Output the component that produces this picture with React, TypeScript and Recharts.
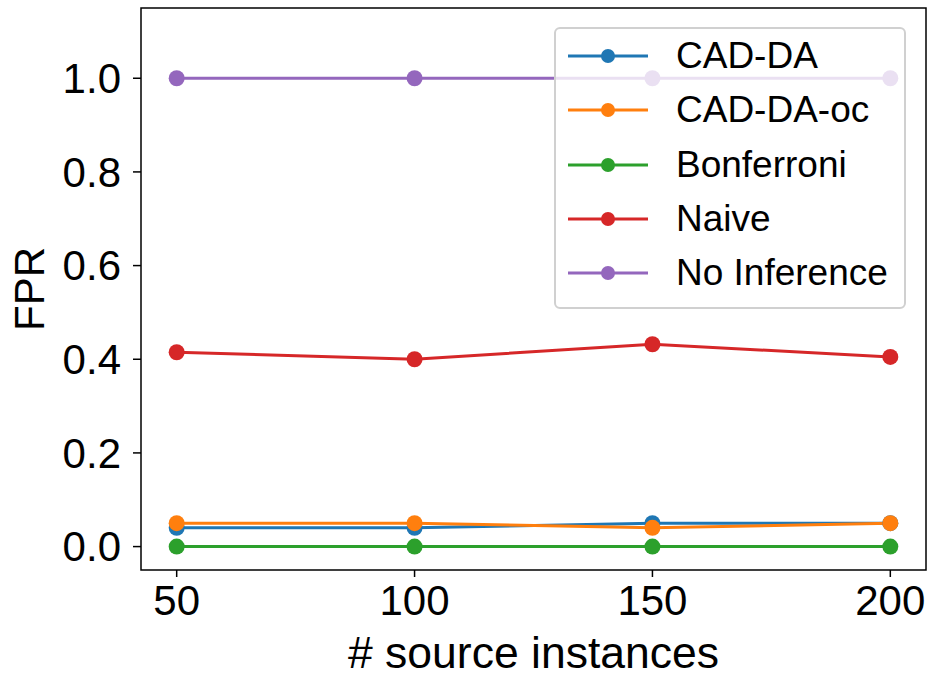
import React from "react";
import {
  LineChart, Line, XAxis, YAxis, ReferenceArea,
} from "recharts";

const sourceInstances = [50, 100, 150, 200];
const cadDa = [0.04, 0.04, 0.05, 0.05];
const cadDaOc = [0.05, 0.05, 0.04, 0.05];
const bonferroni = [0, 0, 0, 0];
const naive = [0.415, 0.4, 0.432, 0.405];
const noInference = [1.0, 1.0, 1.0, 1.0];
const yTicks = [0, 0.2, 0.4, 0.6, 0.8, 1.0];

const SERIES = [
  { key: "cadDa", name: "CAD-DA", color: "#1f77b4", values: cadDa },
  { key: "cadDaOc", name: "CAD-DA-oc", color: "#ff7f0e", values: cadDaOc },
  { key: "bonferroni", name: "Bonferroni", color: "#2ca02c", values: bonferroni },
  { key: "naive", name: "Naive", color: "#d62728", values: naive },
  { key: "noInference", name: "No Inference", color: "#9467bd", values: noInference },
];

const data = sourceInstances.map((n, i) => {
  const row: Record<string, number> = { n };
  SERIES.forEach(s => { row[s.key] = s.values[i]; });
  return row;
});

const FONT = '"Liberation Sans", Arial, Helvetica, sans-serif';
const tickStyle = { fontSize: 42, fill: "#000", fontFamily: FONT };

/* ─── legend box, top right, semi-transparent like matplotlib ─── */
function LegendBox() {
  return (
    <div style={{
      position: "absolute", left: 554, top: 27, width: 352, height: 282,
      background: "rgba(255,255,255,0.8)", border: "2px solid #d0d0d0",
      borderRadius: 6, boxSizing: "border-box", fontFamily: FONT,
    }}>
      {SERIES.map((s, i) => (
        <div key={s.key} style={{ position: "absolute", left: 0, top: i * 54.3, height: 54, display: "flex", alignItems: "center" }}>
          <svg width={120} height={20} style={{ marginLeft: 12 }}>
            <line x1={0} y1={10} x2={80} y2={10} stroke={s.color} strokeWidth={3} />
            <circle cx={40} cy={10} r={7} fill={s.color} />
          </svg>
          <span style={{ fontSize: 37, color: "#000", marginLeft: -12, lineHeight: "54px" }}>{s.name}</span>
        </div>
      ))}
    </div>
  );
}

export default function App() {
  return (
    <div style={{ position: "absolute", left: 0, top: 0, width: 934, height: 681, background: "#fff" }}>
      <LineChart width={934} height={681} data={data} margin={{ top: 8, right: 8, left: 0, bottom: 0 }}>
        <XAxis
          dataKey="n" type="number" domain={[42.5, 207.5]} ticks={sourceInstances}
          allowDataOverflow height={111} tick={tickStyle} tickSize={7} tickMargin={8}
          axisLine={false} tickLine={{ stroke: "#000", strokeWidth: 1.5 }}
          label={{
            content: (p: any) => {
              const vb = p.viewBox;
              return (
                <text x={vb.x + vb.width / 2} y={668} textAnchor="middle"
                  fontSize={44.5} fontFamily={FONT} fill="#000">
                  # source instances
                </text>
              );
            },
          }}
        />
        <YAxis
          type="number" domain={[-0.05, 1.15]} ticks={yTicks} allowDataOverflow
          width={141} tick={tickStyle} tickSize={8} tickMargin={12}
          tickFormatter={(v: number) => v.toFixed(1)}
          axisLine={false} tickLine={{ stroke: "#000", strokeWidth: 1.5 }}
          label={{
            content: (p: any) => {
              const vb = p.viewBox;
              const cx = 29;
              const cy = vb.y + vb.height / 2;
              return (
                <text x={cx} y={cy} textAnchor="middle" dominantBaseline="central"
                  transform={`rotate(-90, ${cx}, ${cy})`}
                  fontSize={42} fontFamily={FONT} fill="#000">
                  FPR
                </text>
              );
            },
          }}
        />
        <ReferenceArea x1={42.5} x2={207.5} y1={-0.05} y2={1.15} fill="none" fillOpacity={0}
          stroke="#000" strokeWidth={1.5} ifOverflow="visible" />
        {SERIES.map(s => (
          <Line key={s.key} dataKey={s.key} name={s.name} stroke={s.color} strokeWidth={3}
            dot={{ r: 8, fill: s.color, stroke: "none" }} activeDot={false}
            isAnimationActive={false} />
        ))}
      </LineChart>
      <LegendBox />
    </div>
  );
}
